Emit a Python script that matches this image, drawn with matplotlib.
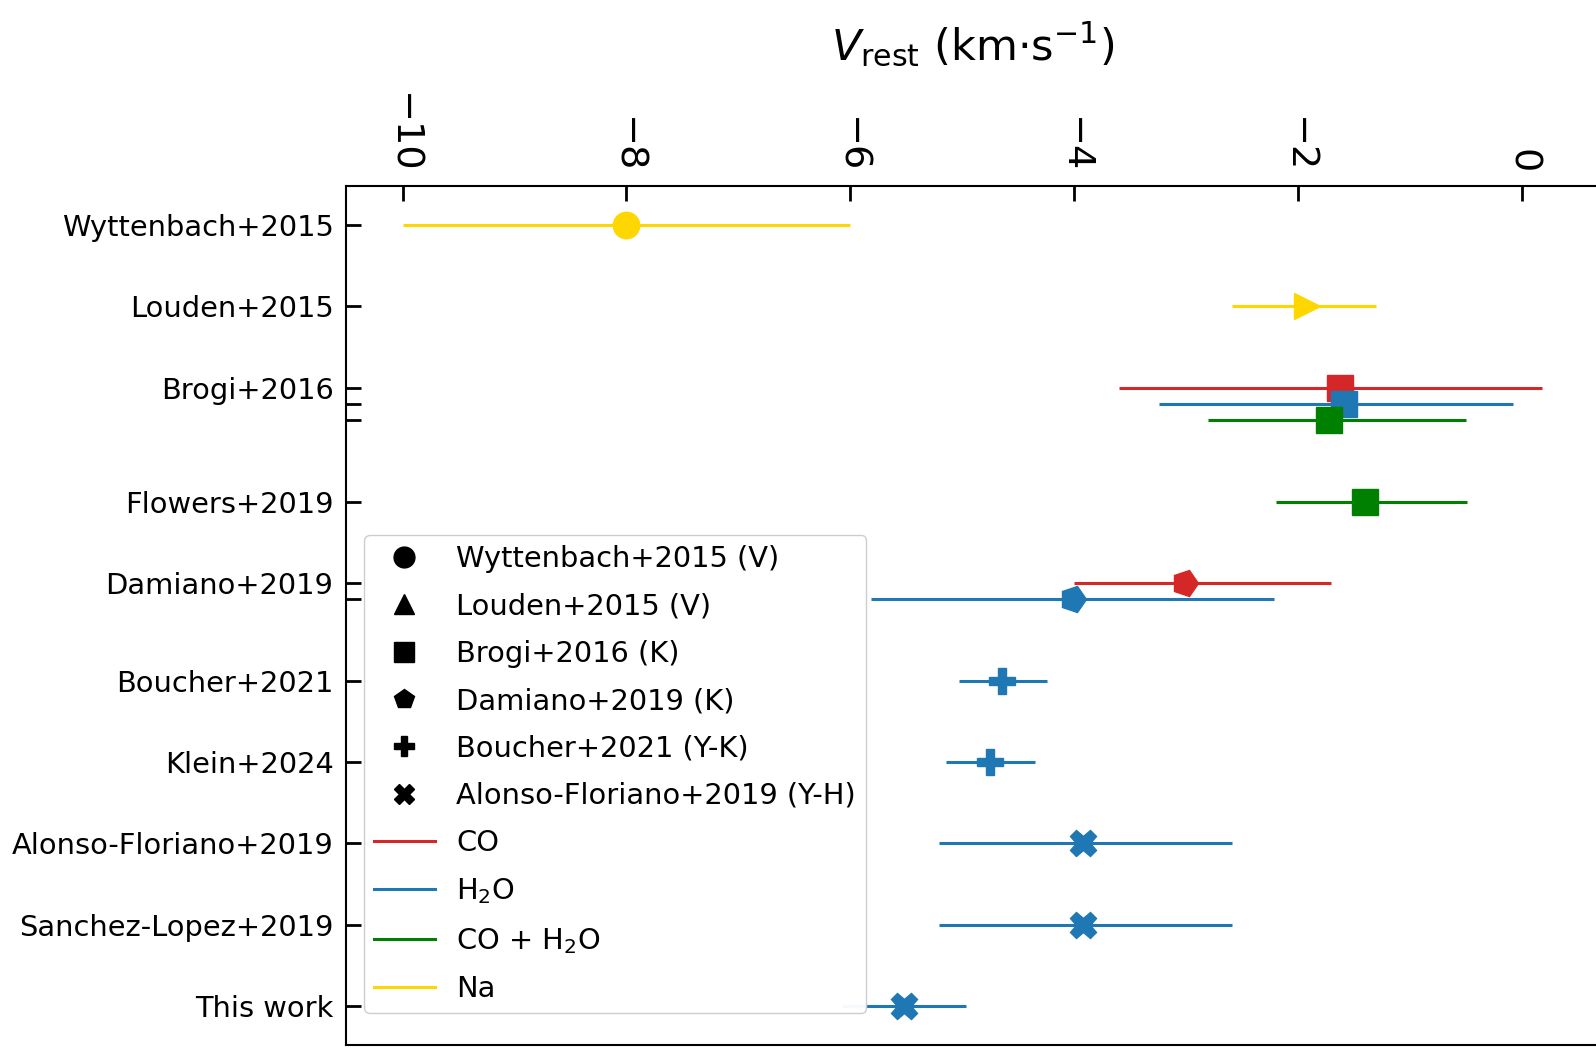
import matplotlib
matplotlib.use("Agg")
import matplotlib.pyplot as plt
from matplotlib.markers import MarkerStyle
from matplotlib.transforms import Affine2D
from matplotlib.lines import Line2D

# ---------------- data ----------------
studies = ["Wyttenbach+2015", "Louden+2015", "Brogi+2016", "Flowers+2019",
           "Damiano+2019", "Boucher+2021", "Klein+2024",
           "Alonso-Floriano+2019", "Sanchez-Lopez+2019", "This work"]
study_pos = [0, 1, 2, 3.4, 4.4, 5.6, 6.6, 7.6, 8.6, 9.6]
extra_ticks = [2.2, 2.4, 4.6]

# each measurement: row position, value, lower err, upper err, species, marker
meas_pos = [0, 1, 2, 2.2, 2.4, 3.4, 4.4, 4.6, 5.6, 6.6, 7.6, 8.6, 9.6]
meas_val = [-8.0, -1.92, -1.62, -1.59, -1.72, -1.40, -3.01, -4.01, -4.64, -4.75, -3.92, -3.92, -5.52]
meas_elo = [2.0, 0.67, 1.98, 1.65, 1.08, 0.80, 0.99, 1.80, 0.39, 0.39, 1.29, 1.29, 0.55]
meas_ehi = [2.0, 0.62, 1.80, 1.51, 1.22, 0.91, 1.31, 1.80, 0.40, 0.40, 1.33, 1.33, 0.55]
meas_species = ["Na", "Na", "CO", "H2O", "CO+H2O", "CO+H2O", "CO", "H2O",
                "H2O", "H2O", "H2O", "H2O", "H2O"]
meas_marker = ["o", ">", "s", "s", "s", "s", "p", "p", "P", "P", "X", "X", "X"]

species_names = ["CO", "H2O", "CO+H2O", "Na"]
species_labels = ["CO", "H$_2$O", "CO + H$_2$O", "Na"]
species_colors = ["#d62728", "#1f77b4", "green", "#FFD700"]

legend_markers = ["o", "^", "s", "p", "P", "X"]
legend_marker_labels = ["Wyttenbach+2015 (V)", "Louden+2015 (V)", "Brogi+2016 (K)",
                        "Damiano+2019 (K)", "Boucher+2021 (Y-K)", "Alonso-Floriano+2019 (Y-H)"]

# ---------------- figure ----------------
W, H = 1596, 1051
fig = plt.figure(figsize=(W / 100, H / 100), dpi=100)
ax_l, ax_r, ax_t, ax_b = 346, 1599, 186, 1045
ax = fig.add_axes([ax_l / W, 1 - ax_b / H, (ax_r - ax_l) / W, (ax_b - ax_t) / H])

col_of = dict(zip(species_names, species_colors))
for y, v, lo, hi, sp, mk in zip(meas_pos, meas_val, meas_elo, meas_ehi, meas_species, meas_marker):
    if mk == "p":
        m = MarkerStyle("p", transform=Affine2D().rotate_deg(-90))
    else:
        m = mk
    ax.errorbar([v], [y], xerr=[[lo], [hi]], fmt="none", ecolor=col_of[sp],
                elinewidth=2.2, capsize=0, zorder=2)
    ax.plot([v], [y], linestyle="none", marker=m, color=col_of[sp], ms=19, zorder=3)

ax.set_xlim(-10.505, 0.69)
ax.set_ylim(10.08, -0.48)

ax.xaxis.tick_top()
ax.xaxis.set_label_position("top")
ax.set_xticks([-10, -8, -6, -4, -2, 0])
ax.set_xticklabels(["\u221210", "\u22128", "\u22126", "\u22124", "\u22122", "0"],
                   rotation=-90, fontsize=27.5)
ax.set_xlabel("$V_{\\rm rest}$ (km$\\cdot$s$^{-1}$)", fontsize=31, labelpad=24)

yt = list(study_pos) + list(extra_ticks)
yl = list(studies) + [""] * len(extra_ticks)
ax.set_yticks(yt)
ax.set_yticklabels(yl, fontsize=20.8)

ax.tick_params(axis="both", direction="in", length=11, width=2, pad=9)
for s in ax.spines.values():
    s.set_linewidth(1.5)

handles = []
labels = []
for mk, lab in zip(legend_markers, legend_marker_labels):
    handles.append(Line2D([], [], linestyle="none", marker=mk, color="k", ms=15))
    labels.append(lab)
for c, lab in zip(species_colors, species_labels):
    handles.append(Line2D([], [], color=c, lw=2.2))
    labels.append(lab)

axw, axh = ax_r - ax_l, ax_b - ax_t
ax.legend(handles, labels, loc="lower left",
          bbox_to_anchor=((364 - ax_l) / axw, (ax_b - 1013) / axh),
          borderaxespad=0, borderpad=0.35, fontsize=20.8, labelspacing=0.67,
          handlelength=2.1, handletextpad=0.75, framealpha=0.97)

fig.savefig("out.png", dpi=100)
